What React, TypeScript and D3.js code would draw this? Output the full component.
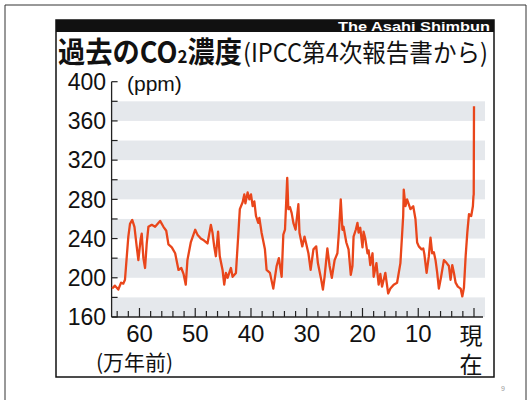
import React from "react";
import * as d3 from "d3";

// age in thousand years before present
const AGE_KA = [
  649, 644, 638, 633, 629, 626, 620, 617, 613, 609,
  605, 602, 598, 596, 593, 590, 587, 584, 578, 572,
  563, 557, 552, 548, 542, 536, 530, 525, 521, 517,
  514, 508, 500, 496, 490, 484, 478, 472, 469, 466,
  463, 459, 456, 451, 448, 445, 442, 436, 433, 427,
  423, 420, 415, 412, 410, 406, 403, 400, 397, 394,
  391, 387, 385, 381, 375, 372, 366, 360, 354, 350,
  345, 342, 339, 335, 333, 330, 327, 324, 320, 315,
  313, 308, 304, 297, 293, 288, 283, 280, 274, 271,
  268, 263, 259, 255, 250, 245, 242, 239, 236, 234,
  229, 225, 221, 218, 216, 212, 209, 207, 204, 200,
  198, 195, 191, 189, 186, 182, 180, 175, 171, 168,
  165, 162, 159, 154, 150, 144, 138, 132, 127, 126,
  123, 120, 114, 109, 105, 102, 99, 94, 91, 89,
  85, 81, 78, 75, 72, 69, 66, 63, 59, 54,
  49, 45, 42, 39, 36, 33, 29, 24, 21, 18,
  15, 12, 9, 5, 2, 1, 0.5, 0,
];
// CO2 concentration (ppm)
const CO2_PPM = [
  189, 192, 188, 195, 194, 198, 242, 255, 259, 252,
  232, 218, 239, 245, 220, 210, 235, 252, 254, 252,
  258, 252, 248, 234, 231, 225, 208, 210, 204, 193,
  218, 236, 249, 244, 240, 238, 235, 254, 246, 232,
  222, 247, 222, 208, 193, 205, 200, 210, 201, 205,
  242, 270, 277, 285, 276, 287, 280, 285, 273, 278,
  263, 256, 261, 246, 229, 208, 205, 189, 212, 220,
  201, 244, 249, 302, 270, 272, 266, 256, 249, 275,
  246, 232, 242, 225, 208, 229, 232, 215, 198, 188,
  201, 230, 212, 200, 218, 225, 249, 280, 249, 252,
  236, 229, 203, 212, 242, 249, 256, 246, 251, 231,
  247, 240, 225, 228, 213, 225, 201, 215, 193, 204,
  191, 198, 205, 184, 189, 193, 195, 215, 263, 290,
  273, 280, 270, 273, 260, 236, 232, 229, 230, 224,
  205, 222, 241, 225, 226, 218, 205, 189, 201, 218,
  215, 212, 198, 213, 205, 195, 191, 189, 181, 190,
  222, 246, 265, 263, 273, 283, 285, 375,
];

const Y_LABELS = [160, 200, 240, 280, 320, 360, 400];
const Y_MINOR = [180, 220, 260, 300, 340, 380];
const BAND_STARTS = [160, 200, 240, 280, 320, 360];
const X_LABEL_VALUES = [600, 500, 400, 300, 200, 100];
const X_LABELS = ["60", "50", "40", "30", "20", "10"];
const X_TICKS = d3.range(0, 641, 20);

const TITLE_BOLD = "過去のCO";
const TITLE_SUB = "2";
const TITLE_BOLD2 = "濃度";
const TITLE_REST = "(IPCC第4次報告書から)";
const UNIT = "(ppm)";
const X_UNIT = "(万年前)";
const NOW = ["現", "在"];
const CREDIT = "The Asahi Shimbun";

const LINE_COLOR = "#e9461b";
const BAND_COLOR = "#e5e8ec";
const NUM_FONT = "'Liberation Sans', Arial, sans-serif";
const CJK_FONT = "'Noto Sans CJK JP', 'Noto Sans', sans-serif";

export default function App() {
  const x = d3.scaleLinear().domain([650, 0]).range([111.6, 474]);
  const y = d3.scaleLinear().domain([160, 400]).range([317, 81.7]);
  const line = d3
    .line<number>()
    .x((_, i) => x(AGE_KA[i]))
    .y((d) => y(d))
    .curve(d3.curveLinear);
  const axisX = x(650);
  const bandRight = 485;

  return (
    <svg
      width={531}
      height={400}
      style={{ position: "absolute", left: 0, top: 0, background: "#fff" }}
    >
      {/* outer frame */}
      <path d="M5,402 V5 H526 V402" fill="none" stroke="#333" strokeWidth={1} />
      {/* inner box */}
      <rect x={56} y={20} width={438} height={357} fill="#fff" stroke="#111" strokeWidth={1.5} />
      <rect x={56} y={20} width={438} height={12} fill="#111" />
      <text
        x={338}
        y={30.5}
        fill="#fff"
        fontFamily={NUM_FONT}
        fontWeight={700}
        fontSize={12}
        textLength={152}
        lengthAdjust="spacingAndGlyphs"
      >
        {CREDIT}
      </text>

      {/* title */}
      <text
        x={58}
        y={63}
        fontFamily={CJK_FONT}
        fontWeight={700}
        fontSize={29}
        fill="#111"
        textLength={184}
        lengthAdjust="spacingAndGlyphs"
      >
        {TITLE_BOLD}
        <tspan fontSize={18}>{TITLE_SUB}</tspan>
        {TITLE_BOLD2}
      </text>
      <text
        x={243}
        y={62}
        fontFamily={CJK_FONT}
        fontSize={25}
        fill="#111"
        textLength={245}
        lengthAdjust="spacingAndGlyphs"
      >
        {TITLE_REST}
      </text>

      {/* bands */}
      {BAND_STARTS.map((v) => (
        <rect
          key={v}
          x={axisX}
          y={y(v + 20)}
          width={bandRight - axisX}
          height={y(v) - y(v + 20)}
          fill={BAND_COLOR}
        />
      ))}

      {/* y axis */}
      <line x1={axisX} x2={axisX} y1={y(400)} y2={y(160)} stroke="#222" strokeWidth={1.3} />
      {[...Y_LABELS, ...Y_MINOR].map((v) => (
        <line key={v} x1={axisX} x2={axisX + 6} y1={y(v)} y2={y(v)} stroke="#222" strokeWidth={1.2} />
      ))}
      {Y_LABELS.map((v) => (
        <text
          key={v}
          x={106}
          y={y(v)}
          dy="0.36em"
          textAnchor="end"
          fontFamily={NUM_FONT}
          fontSize={23}
          fill="#111"
        >
          {v}
        </text>
      ))}
      <text x={127} y={91} fontFamily={NUM_FONT} fontSize={21} fill="#111">
        {UNIT}
      </text>

      {/* x axis */}
      <line x1={axisX} x2={483} y1={y(160)} y2={y(160)} stroke="#222" strokeWidth={1.3} />
      {X_TICKS.map((v) => (
        <line
          key={v}
          x1={x(v)}
          x2={x(v)}
          y1={y(160)}
          y2={y(160) - (v % 100 === 0 ? 9 : 6)}
          stroke="#222"
          strokeWidth={1.2}
        />
      ))}
      {X_LABEL_VALUES.map((v, i) => (
        <text
          key={v}
          x={x(v)}
          y={342}
          textAnchor="middle"
          fontFamily={NUM_FONT}
          fontSize={24}
          fill="#111"
        >
          {X_LABELS[i]}
        </text>
      ))}
      <text x={x(0) - 3} y={344} textAnchor="middle" fontFamily={CJK_FONT} fontSize={23} fill="#111">
        {NOW[0]}
      </text>
      <text x={x(0) - 3} y={373} textAnchor="middle" fontFamily={CJK_FONT} fontSize={23} fill="#111">
        {NOW[1]}
      </text>
      <text x={96} y={370} fontFamily={CJK_FONT} fontSize={21} fill="#111">
        {X_UNIT}
      </text>

      {/* data line */}
      <path
        d={line(CO2_PPM) || ""}
        fill="none"
        stroke={LINE_COLOR}
        strokeWidth={2.3}
        strokeLinejoin="round"
      />

      <text x={501} y={391} fontFamily={NUM_FONT} fontSize={7} fill="#999">
        9
      </text>
    </svg>
  );
}
